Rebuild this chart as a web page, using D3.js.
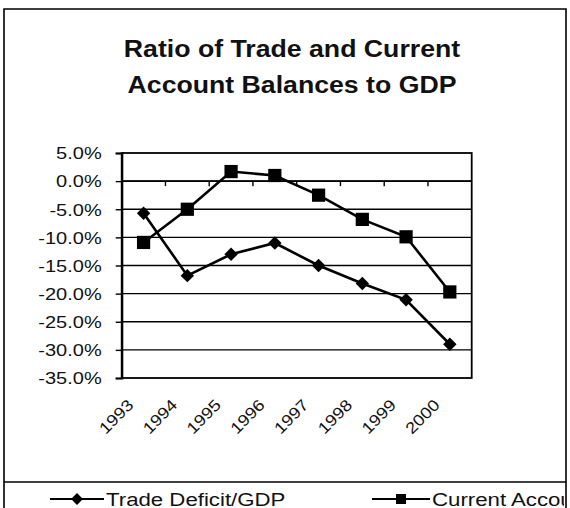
<!DOCTYPE html>
<html>
<head>
<meta charset="utf-8">
<script src="https://cdn.jsdelivr.net/npm/d3@7"></script>
<style>
  body { margin: 0; background: #fff; }
  svg { display: block; font-family: "Liberation Sans", Arial, sans-serif; }
</style>
</head>
<body>
<div id="chart"></div>
<script>
// Ratio of trade and current account balances to GDP, 1993-2000 (values in %)
const years = ["1993", "1994", "1995", "1996", "1997", "1998", "1999", "2000"];
const tradeDeficit = [-5.7, -16.8, -13.0, -11.0, -15.0, -18.2, -21.1, -29.0];
const currentAccount = [-10.9, -5.0, 1.7, 1.0, -2.5, -6.8, -9.9, -19.7];
const yTicks = [5, 0, -5, -10, -15, -20, -25, -30, -35];
const yTickLabels = ["5.0%", "0.0%", "-5.0%", "-10.0%", "-15.0%", "-20.0%", "-25.0%", "-30.0%", "-35.0%"];
const seriesNames = ["Trade Deficit/GDP", "Current Account/GDP"];

const width = 570, height = 508;
const plot = { left: 121.7, right: 471.7, top: 153, bottom: 378 };

const svg = d3.select("#chart")
    .append("svg")
    .attr("width", width)
    .attr("height", height);

svg.append("rect").attr("width", width).attr("height", height).attr("fill", "#fff");

// Chart frame (runs off the bottom of the page)
svg.append("path")
    .attr("d", "M4,520 V9 H566 V520")
    .attr("fill", "none")
    .attr("stroke", "#000")
    .attr("stroke-width", 1.6);
svg.append("line")
    .attr("x1", 4).attr("x2", 566)
    .attr("y1", 482).attr("y2", 482)
    .attr("stroke", "#000").attr("stroke-width", 1.6);

// Title (text is a bit wide in the original, hence the scaleX)
const title = svg.append("g").attr("font-weight", "bold").attr("font-size", "23px").attr("fill", "#111");
[["Ratio of Trade and Current", 57], ["Account Balances to GDP", 93]].forEach(([t, yy]) => {
    title.append("text")
        .attr("text-anchor", "middle")
        .attr("transform", `translate(292,${yy}) scale(1.16,1)`)
        .text(t);
});

// Scales
const x = d3.scaleBand()
    .domain(years)
    .range([plot.left, plot.right])
    .padding(0);

const y = d3.scaleLinear()
    .domain([-35, 5])
    .range([plot.bottom, plot.top]);

const cx = d => x(d) + x.bandwidth() / 2;

// Gridlines
svg.append("g")
    .selectAll("line")
    .data(yTicks.filter(v => v < 5 && v > -35))
    .enter()
    .append("line")
    .attr("x1", plot.left).attr("x2", plot.right)
    .attr("y1", d => y(d)).attr("y2", d => y(d))
    .attr("stroke", "#000")
    .attr("stroke-width", 1.4);

// Plot border
svg.append("rect")
    .attr("x", plot.left).attr("y", plot.top)
    .attr("width", plot.right - plot.left)
    .attr("height", plot.bottom - plot.top)
    .attr("fill", "none")
    .attr("stroke", "#000")
    .attr("stroke-width", 1.8);

// Y axis
const yAxis = svg.append("g")
    .attr("transform", `translate(${plot.left},0)`)
    .call(d3.axisLeft(y)
        .tickValues(yTicks)
        .tickSize(6)
        .tickFormat((d, i) => yTickLabels[i]));
yAxis.select(".domain").attr("stroke-width", 2.2);
yAxis.selectAll(".tick line").attr("stroke-width", 1.4);
yAxis.selectAll(".tick text")
    .attr("x", null)
    .attr("dy", "0.36em")
    .attr("transform", "translate(-20,0) scale(1.25,1)")
    .attr("font-size", "16px")
    .attr("font-family", "'Liberation Sans', Arial, sans-serif")
    .attr("fill", "#111");

// Category axis crosses at 0%: tick marks at category boundaries
svg.append("line")
    .attr("x1", plot.left).attr("x2", plot.right)
    .attr("y1", y(0)).attr("y2", y(0))
    .attr("stroke", "#000").attr("stroke-width", 1.6);
svg.append("g")
    .selectAll("line")
    .data(years.slice(1))
    .enter()
    .append("line")
    .attr("x1", d => x(d)).attr("x2", d => x(d))
    .attr("y1", y(0)).attr("y2", y(0) + 5)
    .attr("stroke", "#000").attr("stroke-width", 1.4);

// Rotated year labels below the plot
svg.append("g")
    .selectAll("text")
    .data(years)
    .enter()
    .append("text")
    .attr("text-anchor", "end")
    .attr("font-size", "16px")
    .attr("fill", "#111")
    .attr("transform", d => `translate(${cx(d) - 9},406) rotate(-45) scale(1.15,1)`)
    .text(d => d);

// Lines and markers
const line = d3.line()
    .x((d, i) => cx(years[i]))
    .y(d => y(d));

const diamond = d3.symbol().type(d3.symbolDiamond2).size(115);
const square = d3.symbol().type(d3.symbolSquare).size(175);

function drawSeries(values, sym) {
    svg.append("path")
        .datum(values)
        .attr("d", line)
        .attr("fill", "none")
        .attr("stroke", "#000")
        .attr("stroke-width", 2.6);
    svg.append("g")
        .selectAll("path")
        .data(values)
        .enter()
        .append("path")
        .attr("d", sym)
        .attr("transform", (d, i) => `translate(${cx(years[i])},${y(d)})`)
        .attr("fill", "#000");
}

drawSeries(currentAccount, square);
drawSeries(tradeDeficit, diamond);

// Legend, clipped by the right edge of the frame like the original
svg.append("clipPath").attr("id", "legendClip")
    .append("rect").attr("x", 0).attr("y", 483).attr("width", 564).attr("height", 30);

const legend = svg.append("g").attr("clip-path", "url(#legendClip)");
const legendItems = [
    { name: seriesNames[0], x0: 50, x1: 104, sym: d3.symbol().type(d3.symbolDiamond2).size(90) },
    { name: seriesNames[1], x0: 372, x1: 430, sym: d3.symbol().type(d3.symbolSquare).size(100) }
];
legendItems.forEach(it => {
    legend.append("line")
        .attr("x1", it.x0).attr("x2", it.x1)
        .attr("y1", 499).attr("y2", 499)
        .attr("stroke", "#000").attr("stroke-width", 2);
    legend.append("path")
        .attr("d", it.sym)
        .attr("transform", `translate(${(it.x0 + it.x1) / 2},499)`)
        .attr("fill", "#000");
    legend.append("text")
        .attr("transform", `translate(${it.x1 + 2},505.5) scale(1.17,1)`)
        .attr("font-size", "19px")
        .attr("fill", "#111")
        .text(it.name);
});
</script>
</body>
</html>
